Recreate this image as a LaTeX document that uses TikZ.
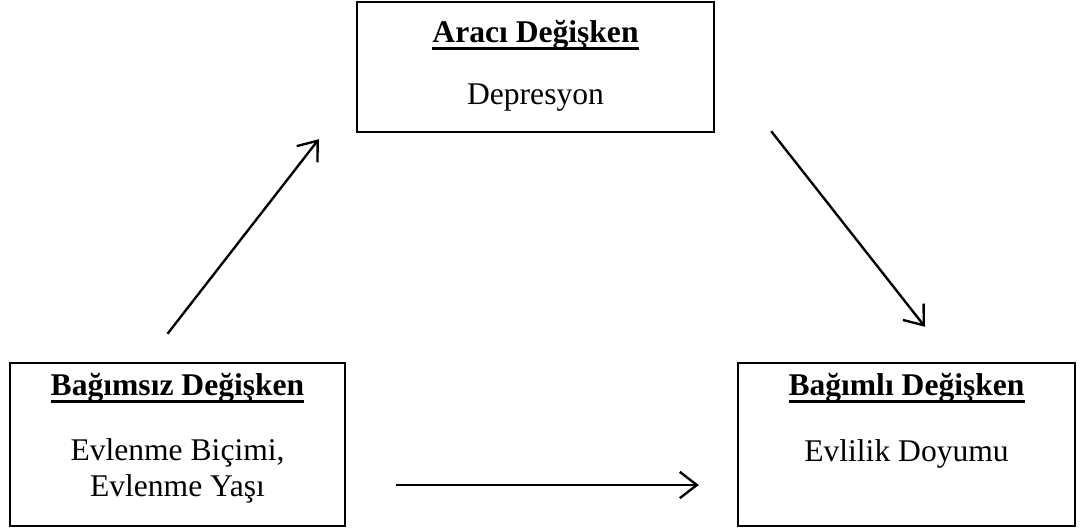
\documentclass[tikz,border=0pt]{standalone}
\usepackage{fontspec}
\setmainfont{Liberation Serif}
\usetikzlibrary{arrows.meta,positioning}

% kalin ve altı cizili baslik
\newcommand{\baslik}[1]{\setbox0\hbox{\bfseries #1}\rlap{\rule[-2.7pt]{\wd0}{1.1pt}}\box0}

\tikzset{
  kutu/.style={draw, line width=0.9pt, minimum width=#1*0.38pt, inner sep=0pt},
  yazi/.style={anchor=base, inner sep=0pt, font=\fontsize{12}{13.7}\selectfont},
  ok/.style={line width=0.9pt, -{Straight Barb[length=6.5pt,width=10pt,line width=0.9pt]}}
}

\begin{document}
\begin{tikzpicture}[x=0.38pt,y=-0.38pt]
\useasboundingbox (0,0) rectangle (1088,530);

% kutular
\node[kutu=357, minimum height=130*0.38pt] (araci) at (535.5,67) {};
\node[kutu=335, minimum height=163*0.38pt] (bagimsiz) at (177.5,444.5) {};
\node[kutu=337, minimum height=163*0.38pt] (bagimli) at (906.5,444.5) {};

% yazilar
\node[yazi] (araciB) at ([yshift=-42*0.38pt]araci.north) {\baslik{Aracı Değişken}};
\node[yazi] (araciD) at ([yshift=-104*0.38pt]araci.north) {Depresyon};

\node[yazi] (bagimsizB) at ([yshift=-34*0.38pt]bagimsiz.north) {\baslik{Bağımsız Değişken}};
\node[yazi, align=center] (bagimsizD) at ([yshift=-135*0.38pt]bagimsiz.north) {Evlenme Biçimi,\\Evlenme Yaşı};

\node[yazi] (bagimliB) at ([yshift=-34*0.38pt]bagimli.north) {\baslik{Bağımlı Değişken}};
\node[yazi] (bagimliD) at ([yshift=-100*0.38pt]bagimli.north) {Evlilik Doyumu};

% oklar
\draw[ok] ([shift={(-10,-28)}]bagimsiz.north) -- ([shift={(-37,6)}]araci.south west);
\draw[ok] ([shift={(56,-2)}]araci.south east) -- ([shift={(18.5,-35)}]bagimli.north);
\draw[ok] ([shift={(50,40.5)}]bagimsiz.east) -- ([shift={(-38,40.5)}]bagimli.west);
\end{tikzpicture}
\end{document}
